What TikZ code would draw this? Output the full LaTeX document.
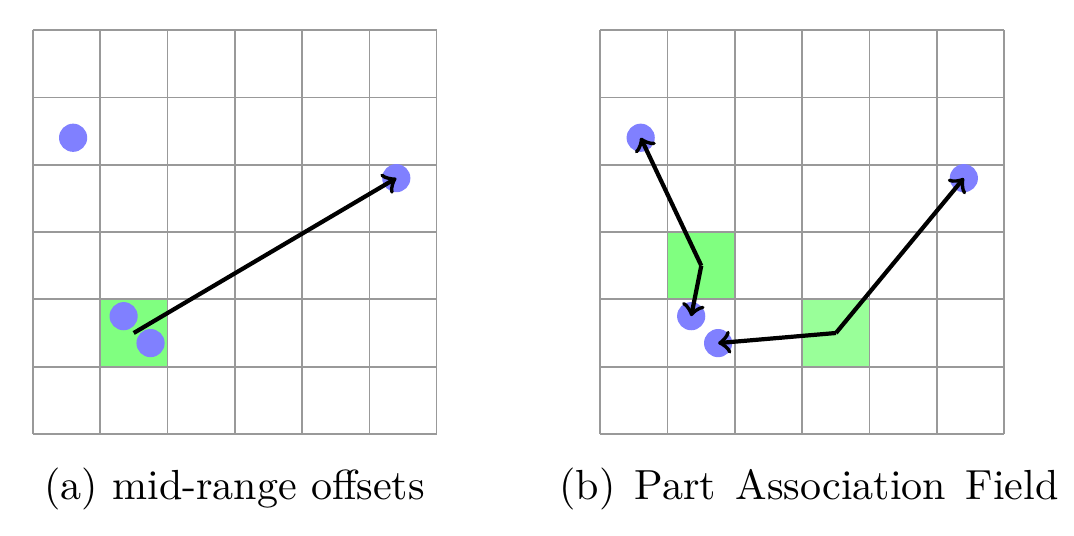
\documentclass[tikz,border=0pt]{standalone}
\usepackage{amsmath}
\usepackage{amssymb}
\usetikzlibrary{positioning}

\begin{document}
\begin{tikzpicture}[x=16pt,y=16pt,
	punkt/.style={circle,fill=blue!50,inner sep=0pt,minimum size=6.7pt},
	pfeil/.style={->,line width=1pt}]
	\useasboundingbox (-0.486,-1.515) rectangle (15.466,6.446);
	% linkes Bild: Zelle, Raster, Punkte
	\fill [green!50] (1,1) rectangle (2,2);
	\draw [color=black!40] [step=16pt] (0,0) grid (6,6);
	\node [punkt] (a1) at (0.6,4.4) {};
	\node [punkt] (a2) at (5.4,3.8) {};
	\node [punkt] (a3) at (1.35,1.75) {};
	\node [punkt] (a4) at (1.75,1.35) {};
	\coordinate (am) at (1.5,1.5);
	\draw [pfeil] (am) -- (a2.center);
	\node [anchor=base] (capa) at (3,-0.973) {(a) mid-range offsets};

	% rechtes Bild
	\begin{scope}[shift={(8.43,0)}]
	\fill [green!50] (1,2) rectangle (2,3);
	\fill [green!40] (3,1) rectangle (4,2);
	\draw [color=black!40] [step=16pt] (0,0) grid (6,6);
	\node [punkt] (b1) at (0.6,4.4) {};
	\node [punkt] (b2) at (5.4,3.8) {};
	\node [punkt] (b3) at (1.35,1.75) {};
	\node [punkt] (b4) at (1.75,1.35) {};
	\coordinate (bm1) at (1.5,2.5);
	\coordinate (bm2) at (3.5,1.5);
	\draw [pfeil] (bm1) -- (b1.center);
	\draw [pfeil] (bm1) -- (b3.center);
	\draw [pfeil] (bm2) -- (b4.center);
	\draw [pfeil] (bm2) -- (b2.center);
	\node [anchor=base] (capb) at (3.1,-0.973) {\spaceskip=4.6pt (b) Part Association Field};
	\end{scope}
\end{tikzpicture}
\end{document}
